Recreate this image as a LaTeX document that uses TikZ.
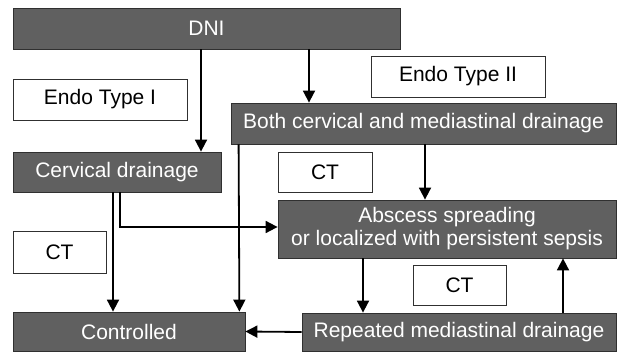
\documentclass[tikz,border=0pt]{standalone}
\usepackage{fontspec}
\setmainfont{Liberation Sans}
\usetikzlibrary{arrows.meta}
\definecolor{boxgray}{HTML}{606060}
\definecolor{edgegray}{HTML}{303030}
\begin{document}
\begin{tikzpicture}[x=1pt,y=-1pt]
\tikzset{darkbox/.style={draw=edgegray,line width=0.8pt,fill=boxgray,text=white,inner sep=0pt,align=center,font=\fontsize{21}{23}\selectfont}};
\tikzset{lightbox/.style={draw=edgegray,line width=0.8pt,fill=white,text=black,inner sep=0pt,align=center,font=\fontsize{21}{23}\selectfont}};
\useasboundingbox (0,0) rectangle (617,352);

\node[darkbox,minimum width=387pt,minimum height=41pt] (DNI) at (206.5,28.5) {DNI};

\node[lightbox,minimum width=174pt,minimum height=41pt] (typeI) at (100,99.5) {Endo Type I};
\node[lightbox,minimum width=174pt,minimum height=41pt] (typeII) at (458,76.5) {Endo Type II};

\node[darkbox,minimum width=385pt,minimum height=41pt] (both) at (423.5,123.5) {Both cervical and mediastinal drainage};
\node[darkbox,minimum width=208pt,minimum height=40pt] (cerv) at (117,172) {Cervical drainage};

\node[lightbox,minimum width=94pt,minimum height=40pt] (ctA) at (325,172) {CT};
\node[darkbox,minimum width=338pt,minimum height=58pt] (absc) at (447,229) {Abscess spreading\\or localized with persistent sepsis};

\node[lightbox,minimum width=93pt,minimum height=42pt] (ctB) at (59.5,252) {CT};
\node[lightbox,minimum width=93pt,minimum height=40pt] (ctC) at (459.5,285) {CT};

\node[darkbox,minimum width=232pt,minimum height=39pt] (ctrl) at (129,331.5) {Controlled};
\node[darkbox,minimum width=314pt,minimum height=38pt] (rep) at (459,332) {Repeated mediastinal drainage};

\tikzset{flow/.style={-{Triangle[width=12pt,length=12pt]},line width=1.8pt,black}};
\path ([xshift=-5.5pt]DNI.south) edge [flow] ([xshift=84pt]cerv.north);
\path ([xshift=102.5pt]DNI.south) edge [flow] ([xshift=-114.5pt]both.north);
\path ([xshift=1.5pt]both.south) edge [flow] ([xshift=-22pt]absc.north);
\path ([xshift=8pt]both.south west) edge [flow] ([xshift=-6pt]ctrl.north east);
\path ([xshift=-4pt]cerv.south) edge [flow] ([xshift=-16pt]ctrl.north);
\draw[flow] ([xshift=3pt]cerv.south) |- ([yshift=2pt]absc.west);
\path ([xshift=-84pt]absc.south) edge [flow] ([xshift=-96pt]rep.north);
\path ([xshift=104pt]rep.north) edge [flow] ([xshift=116pt]absc.south);
\path (rep.west) edge [flow] (ctrl.east);
\end{tikzpicture}
\end{document}
